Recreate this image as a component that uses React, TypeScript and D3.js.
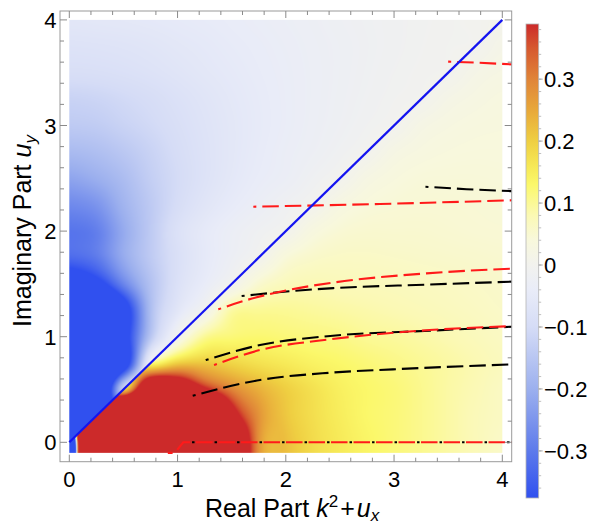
import React, { useMemo } from 'react';
import * as d3 from 'd3';

const WIDTH = 592;
const HEIGHT = 525;

// ---------- density grid (value of the field) ----------
const gridX = [0, 0.25, 0.5, 0.75, 1, 1.25, 1.5, 1.75, 2, 2.25, 2.5, 2.75, 3, 3.25, 3.5, 3.75, 4];
const gridY = [4, 3.75, 3.5, 3.25, 3, 2.75, 2.5, 2.25, 2, 1.75, 1.5, 1.25, 1, 0.75, 0.5, 0.25, 0, -0.25];

// rows follow gridY, columns follow gridX (values on the lower side of the line y = x)
const densityRows: number[][] = [
  [-0.06, -0.058, -0.056, -0.053, -0.049, -0.045, -0.04, -0.035, -0.03, -0.025, -0.02, -0.016, -0.012, -0.008, -0.004, 0.0, 0.006],
  [-0.075, -0.073, -0.07, -0.065, -0.058, -0.052, -0.045, -0.039, -0.033, -0.027, -0.022, -0.017, -0.012, -0.007, -0.003, 0.0, 0.015],
  [-0.09, -0.088, -0.083, -0.076, -0.067, -0.058, -0.05, -0.042, -0.035, -0.028, -0.022, -0.016, -0.01, -0.005, 0.0, 0.016, 0.024],
  [-0.12, -0.115, -0.105, -0.094, -0.08, -0.067, -0.055, -0.045, -0.036, -0.028, -0.021, -0.014, -0.007, 0.0, 0.017, 0.026, 0.032],
  [-0.14, -0.135, -0.12, -0.105, -0.088, -0.072, -0.058, -0.046, -0.036, -0.027, -0.019, -0.01, 0.0, 0.02, 0.029, 0.034, 0.036],
  [-0.175, -0.165, -0.145, -0.12, -0.095, -0.075, -0.058, -0.044, -0.033, -0.024, -0.013, 0.0, 0.022, 0.032, 0.037, 0.039, 0.039],
  [-0.22, -0.2, -0.17, -0.13, -0.1, -0.075, -0.055, -0.04, -0.03, -0.015, 0.0, 0.024, 0.036, 0.042, 0.043, 0.043, 0.042],
  [-0.27, -0.25, -0.19, -0.14, -0.095, -0.065, -0.045, -0.03, -0.015, 0.0, 0.027, 0.04, 0.045, 0.047, 0.047, 0.046, 0.045],
  [-0.31, -0.29, -0.21, -0.14, -0.08, -0.05, -0.03, -0.015, 0.0, 0.032, 0.047, 0.052, 0.052, 0.052, 0.05, 0.048, 0.047],
  [-0.33, -0.3, -0.21, -0.14, -0.085, -0.05, -0.025, 0.0, 0.042, 0.057, 0.062, 0.062, 0.06, 0.058, 0.056, 0.054, 0.052],
  [-0.5, -0.43, -0.28, -0.16, -0.08, -0.04, 0.0, 0.052, 0.072, 0.077, 0.074, 0.072, 0.07, 0.067, 0.064, 0.06, 0.057],
  [-0.8, -0.75, -0.46, -0.17, -0.06, 0.0, 0.09, 0.1, 0.1, 0.095, 0.09, 0.085, 0.08, 0.075, 0.07, 0.065, 0.06],
  [-0.8, -0.75, -0.45, -0.15, 0.0, 0.1, 0.12, 0.125, 0.12, 0.115, 0.11, 0.1, 0.095, 0.088, 0.08, 0.072, 0.065],
  [0.2, 0.2, 0.15, 0.12, 0.2, 0.21, 0.19, 0.17, 0.155, 0.14, 0.13, 0.12, 0.11, 0.1, 0.09, 0.08, 0.07],
  [0.6, 0.5, 0.2, 0.65, 0.6, 0.42, 0.3, 0.24, 0.2, 0.17, 0.145, 0.13, 0.12, 0.105, 0.09, 0.078, 0.065],
  [1.0, 1.0, 1.2, 1.2, 1.2, 1.0, 0.48, 0.28, 0.21, 0.175, 0.15, 0.13, 0.12, 0.105, 0.09, 0.075, 0.065],
  [-1.6, 5.0, 1.2, 1.2, 1.2, 1.1, 0.7, 0.28, 0.22, 0.18, 0.155, 0.135, 0.12, 0.105, 0.09, 0.075, 0.06],
  [-1.6, 5.0, 1.2, 1.2, 1.2, 1.1, 0.7, 0.28, 0.22, 0.18, 0.155, 0.135, 0.12, 0.105, 0.09, 0.075, 0.06],
];

// values on the upper side of the line y = x near the origin (rows y = 0.75 .. -0.25, columns x = 0 .. 1)
const upperPatchRows: number[][] = [
  [-0.8, -0.8, -0.48, -0.02, 0.05],
  [-0.8, -0.7, -0.12, 0.0, 0.03],
  [-0.8, -0.7, -0.4, -0.1, 0.0],
  [-0.8, -0.8, -0.6, -0.3, 0.0],
  [-0.8, -0.8, -0.6, -0.3, 0.0],
];

// ---------- colour map ----------
const colorValues = [-0.38, -0.3, -0.2, -0.1, -0.04, 0, 0.04, 0.08, 0.13, 0.16, 0.2, 0.25, 0.3, 0.35, 0.39];
const colorHexes = ['#3050ef', '#5d7aeb', '#9cb0ee', '#d5dcf6', '#e9ecf8', '#f2f2ee', '#f8f8dc', '#fbf9b4', '#fbf86a', '#f6e856', '#efcf42', '#e8a83a', '#e08438', '#d6582f', '#cc2a2a'];
const colorbarTicks = [-0.3, -0.2, -0.1, 0, 0.1, 0.2, 0.3];
const colorbarLabels = ['\u22120.3', '\u22120.2', '\u22120.1', '0', '0.1', '0.2', '0.3'];

// ---------- axes ----------
const xTicks = [0, 1, 2, 3, 4];
const yTicks = [0, 1, 2, 3, 4];
const tickLabels = ['0', '1', '2', '3', '4'];

// ---------- curves ----------
const diagonal = [[0, 0], [4, 4]];
const curveR0 = [[3.5, 3.605], [3.76, 3.595], [4.1, 3.578]];
const curveB1 = [[3.29, 2.42], [3.67, 2.397], [4.1, 2.378]];
const curveR1 = [[1.7, 2.231], [2.87, 2.257], [4.1, 2.292]];
const curveR2 = [[1.376, 1.259], [1.639, 1.347], [1.946, 1.426], [2.44, 1.513], [3.3, 1.6], [4.1, 1.645]];
const curveB2 = [[1.592, 1.385], [2.07, 1.433], [2.44, 1.46], [3.3, 1.493], [4.1, 1.522]];
const curveB3 = [[1.26, 0.779], [1.762, 0.921], [2.41, 1.007], [3.33, 1.057], [4.1, 1.095]];
const curveR3 = [[1.337, 0.732], [1.762, 0.874], [2.41, 0.975], [3.33, 1.063], [4.1, 1.1]];
const curveB4 = [[1.14, 0.441], [1.762, 0.59], [2.41, 0.659], [2.99, 0.691], [4.1, 0.738]];
const curveR5 = [[0.91, -0.1], [0.975, -0.1], [1.053, 0], [4.1, 0]];
const curveB5 = [[1.053, 0], [4.1, 0]];

// ---------- layout ----------
const FRAME = { left: 60, right: 511.7, top: 11, bottom: 461.7 };
const xs = d3.scaleLinear().domain([-0.0859, 4.0868]).range([FRAME.left, FRAME.right]);
const ys = d3.scaleLinear().domain([-0.1837, 4.0843]).range([FRAME.bottom, FRAME.top]);
const CB = { x: 526, w: 12.7, top: 24, bottom: 498 };
const cbScale = d3.scaleLinear().domain([-0.376, 0.389]).range([CB.bottom, CB.top]);

const FONT = 'Liberation Sans, Arial, Helvetica, sans-serif';

function cr(p0: number, p1: number, p2: number, p3: number, t: number) {
  return 0.5 * (2 * p1 + (-p0 + p2) * t + (2 * p0 - 5 * p1 + 4 * p2 - p3) * t * t + (-p0 + 3 * p1 - 3 * p2 + p3) * t * t * t);
}

function sampleGrid(g: number[][], x: number, y: number) {
  const step = gridX[1] - gridX[0];
  const fx = (x - gridX[0]) / step;
  const fy = (gridY[0] - y) / step;
  const i = Math.floor(fx);
  const j = Math.floor(fy);
  const tx = fx - i;
  const ty = fy - j;
  const nr = g.length;
  const nc = g[0].length;
  const at = (r: number, c: number) => g[Math.max(0, Math.min(nr - 1, r))][Math.max(0, Math.min(nc - 1, c))];
  const col: number[] = [];
  for (let dj = -1; dj <= 2; dj++) {
    col.push(cr(at(j + dj, i - 1), at(j + dj, i), at(j + dj, i + 1), at(j + dj, i + 2), tx));
  }
  return cr(col[0], col[1], col[2], col[3], ty);
}

function useDensityImage() {
  return useMemo(() => {
    const lower = densityRows;
    const upper = densityRows.map((row, r) => {
      const pr = r - (densityRows.length - upperPatchRows.length);
      if (pr < 0) return row.slice();
      return row.map((v, c) => (c < upperPatchRows[pr].length ? upperPatchRows[pr][c] : v));
    });
    const cmap = d3.scaleLinear<string>().domain(colorValues).range(colorHexes).interpolate(d3.interpolateRgb).clamp(true);
    const lutN = 1024;
    const lo = colorValues[0];
    const hi = colorValues[colorValues.length - 1];
    const lut: number[][] = [];
    for (let k = 0; k < lutN; k++) {
      const c = d3.rgb(cmap(lo + ((hi - lo) * k) / (lutN - 1)));
      lut.push([c.r, c.g, c.b]);
    }
    const x0 = xs(0);
    const x1 = xs(4);
    const y0 = ys(4);
    const y1 = ys(-0.1);
    const w = Math.round(x1 - x0);
    const h = Math.round(y1 - y0);
    const canvas = document.createElement('canvas');
    canvas.width = w;
    canvas.height = h;
    const ctx = canvas.getContext('2d');
    if (!ctx) return { href: '', x: x0, y: y0, w, h };
    const img = ctx.createImageData(w, h);
    for (let py = 0; py < h; py++) {
      const dy = ys.invert(y0 + ((py + 0.5) * (y1 - y0)) / h);
      for (let px = 0; px < w; px++) {
        const dx = xs.invert(x0 + ((px + 0.5) * (x1 - x0)) / w);
        const v = sampleGrid(dy >= dx ? upper : lower, dx, dy);
        let k = Math.round(((v - lo) / (hi - lo)) * (lutN - 1));
        k = Math.max(0, Math.min(lutN - 1, k));
        const o = (py * w + px) * 4;
        img.data[o] = lut[k][0];
        img.data[o + 1] = lut[k][1];
        img.data[o + 2] = lut[k][2];
        img.data[o + 3] = 255;
      }
    }
    ctx.putImageData(img, 0, 0);
    return { href: canvas.toDataURL(), x: x0, y: y0, w: x1 - x0, h: y1 - y0 };
  }, []);
}

const lineGen = d3
  .line<number[]>()
  .x((d) => xs(d[0]))
  .y((d) => ys(d[1]))
  .curve(d3.curveMonotoneX);
const straightGen = d3
  .line<number[]>()
  .x((d) => xs(d[0]))
  .y((d) => ys(d[1]));

const RED = '#ff1a1a';
const dashedCurves = [
  { pts: curveB1, color: '#000000' },
  { pts: curveB2, color: '#000000' },
  { pts: curveB3, color: '#000000' },
  { pts: curveB4, color: '#000000' },
  { pts: curveR0, color: RED },
  { pts: curveR1, color: RED },
  { pts: curveR2, color: RED },
  { pts: curveR3, color: RED },
];

export default function App() {
  const dens = useDensityImage();
  const minorX = d3.range(-0.2, 4.3, 0.2).filter((v) => xs(v) >= FRAME.left - 0.1 && xs(v) <= FRAME.right + 0.1);
  const minorY = d3.range(-0.2, 4.3, 0.2).filter((v) => ys(v) <= FRAME.bottom + 0.1 && ys(v) >= FRAME.top - 0.1);
  const isMajor = (v: number) => Math.abs(v - Math.round(v)) < 1e-6;
  const tickColor = '#8a8a8a';
  const cbMinor = d3.range(-0.36, 0.39, 0.02);
  const gradId = 'cbgrad';
  return (
    <svg width={WIDTH} height={HEIGHT} style={{ position: 'absolute', left: 0, top: 0, background: '#fff' }} fontFamily={FONT}>
      <defs>
        <clipPath id="frameclip">
          <rect x={FRAME.left} y={FRAME.top} width={FRAME.right - FRAME.left} height={FRAME.bottom - FRAME.top} />
        </clipPath>
        <linearGradient id={gradId} x1="0" y1="1" x2="0" y2="0">
          {colorValues.map((v, i) => (
            <stop key={i} offset={(CB.bottom - cbScale(v)) / (CB.bottom - CB.top)} stopColor={colorHexes[i]} />
          ))}
        </linearGradient>
      </defs>
      <rect x={0} y={0} width={WIDTH} height={HEIGHT} fill="#fff" />
      {dens.href && (
        <image href={dens.href} x={dens.x} y={dens.y} width={dens.w} height={dens.h} preserveAspectRatio="none" />
      )}
      <g clipPath="url(#frameclip)">
        {dashedCurves.map((c, i) => (
          <path key={i} d={lineGen(c.pts) || ''} fill="none" stroke={c.color} strokeWidth={2.1} strokeDasharray="16.5 6" strokeDashoffset={13.5} />
        ))}
        <path d={straightGen(curveB5) || ''} fill="none" stroke="#000" strokeWidth={2.1} strokeDasharray="2.5 20" strokeDashoffset={13.75} />
        <path d={straightGen(curveR5) || ''} fill="none" stroke={RED} strokeWidth={2.1} strokeDasharray="16.5 6" strokeDashoffset={11.7} />
        <path d={straightGen(diagonal) || ''} fill="none" stroke="#1414f0" strokeWidth={2.2} />
      </g>
      {/* frame */}
      <rect x={FRAME.left} y={FRAME.top} width={FRAME.right - FRAME.left} height={FRAME.bottom - FRAME.top} fill="none" stroke="#9a9a9a" strokeWidth={1} />
      {minorX.map((v, i) => {
        const L = isMajor(v) ? 7 : 4;
        const x = xs(v);
        return (
          <g key={'tx' + i} stroke={tickColor} strokeWidth={1}>
            <line x1={x} x2={x} y1={FRAME.bottom} y2={FRAME.bottom - L} />
            <line x1={x} x2={x} y1={FRAME.top} y2={FRAME.top + L} />
          </g>
        );
      })}
      {minorY.map((v, i) => {
        const L = isMajor(v) ? 7 : 4;
        const y = ys(v);
        return (
          <g key={'ty' + i} stroke={tickColor} strokeWidth={1}>
            <line x1={FRAME.left} x2={FRAME.left + L} y1={y} y2={y} />
            <line x1={FRAME.right} x2={FRAME.right - L} y1={y} y2={y} />
          </g>
        );
      })}
      {xTicks.map((v, i) => (
        <text key={'lx' + i} x={xs(v)} y={487} fontSize={22} textAnchor="middle" fill="#000">
          {tickLabels[i]}
        </text>
      ))}
      {yTicks.map((v, i) => (
        <text key={'ly' + i} x={56.5} y={ys(v) + 8} fontSize={22} textAnchor="end" fill="#000">
          {tickLabels[i]}
        </text>
      ))}
      {/* axis titles */}
      <text x={205} y={516.5} fontSize={25} fill="#000">
        Real Part <tspan fontStyle="italic">k</tspan>
        <tspan fontSize={17} dy={-10}>2</tspan>
        <tspan dy={10} dx={2}>+</tspan>
        <tspan fontStyle="italic" dx={2}>u</tspan>
        <tspan fontSize={17} dy={4.5} fontStyle="italic">x</tspan>
      </text>
      <text transform="translate(31.3,327) rotate(-90)" x={0} y={0} fontSize={25} fill="#000">
        Imaginary Part <tspan fontStyle="italic">u</tspan>
        <tspan fontSize={17} dy={5} fontStyle="italic">y</tspan>
      </text>
      {/* colour bar */}
      <rect x={CB.x} y={CB.top} width={CB.w} height={CB.bottom - CB.top} fill={`url(#${gradId})`} stroke="#b5b5b5" strokeWidth={0.8} />
      {cbMinor.map((v, i) => (
        <line key={'cbt' + i} x1={CB.x + CB.w} x2={CB.x + CB.w + 2.5} y1={cbScale(v)} y2={cbScale(v)} stroke="#b0b0b0" strokeWidth={0.8} />
      ))}
      {colorbarTicks.map((v, i) => (
        <g key={'cbl' + i}>
          <line x1={CB.x + CB.w} x2={CB.x + CB.w + 4} y1={cbScale(v)} y2={cbScale(v)} stroke="#999" strokeWidth={0.8} />
          <text x={544} y={cbScale(v) + 8} fontSize={22} fill="#000">
            {colorbarLabels[i]}
          </text>
        </g>
      ))}
    </svg>
  );
}
